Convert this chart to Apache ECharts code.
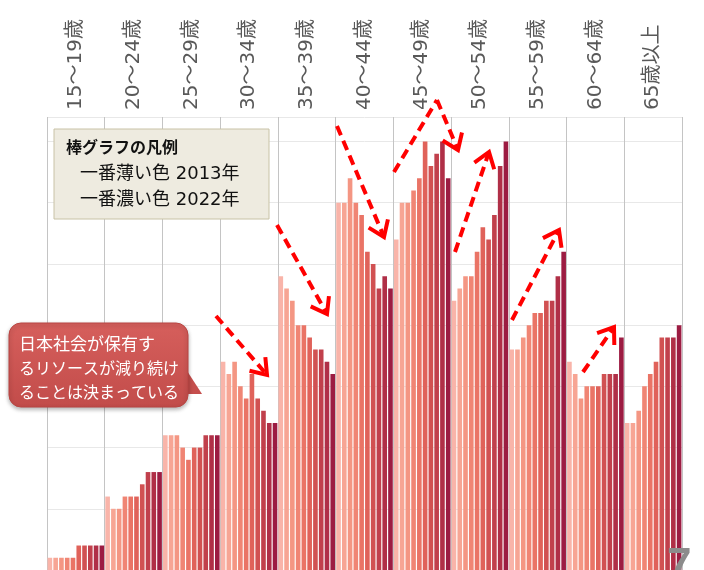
<!DOCTYPE html>
<html>
<head>
<meta charset="utf-8">
<script src="https://cdn.jsdelivr.net/npm/echarts@6/dist/echarts.min.js"></script>
<style>
  html, body { margin: 0; padding: 0; background: #fff; }
  #chart { width: 704px; height: 570px; }
</style>
</head>
<body>
<div id="chart"></div>
<script>
// age groups (x categories) and years (one series per year)
var ages = ['15～19歳', '20～24歳', '25～29歳', '30～34歳', '35～39歳', '40～44歳',
            '45～49歳', '50～54歳', '55～59歳', '60～64歳', '65歳以上'];
var years = ['2013', '2014', '2015', '2016', '2017', '2018', '2019', '2020', '2021', '2022'];

// bar heights per age group, 2013 -> 2022 (units, 5 per gridline)
var g15 = [1, 1, 1, 1, 1, 2, 2, 2, 2, 2];
var g20 = [6, 5, 5, 6, 6, 6, 7, 8, 8, 8];
var g25 = [11, 11, 11, 10, 9, 10, 10, 11, 11, 11];
var g30 = [17, 16, 17, 15, 14, 16, 14, 13, 12, 12];
var g35 = [24, 23, 22, 20, 20, 19, 18, 18, 17, 16];
var g40 = [30, 30, 32, 30, 29, 26, 25, 23, 24, 23];
var g45 = [27, 30, 30, 31, 32, 35, 33, 34, 35, 32];
var g50 = [22, 23, 24, 24, 26, 28, 27, 29, 33, 35];
var g55 = [18, 18, 19, 20, 21, 21, 22, 22, 24, 26];
var g60 = [17, 16, 14, 15, 15, 15, 16, 16, 16, 19];
var g65 = [12, 12, 13, 15, 16, 17, 19, 19, 19, 20];

var yTicks = { min: 0, max: 37, interval: 5 };

var colors = ['#F9B4A9', '#F7A594', '#F49683', '#F08574', '#EA7466',
              '#E0625A', '#D15152', '#C1404C', '#B02F47', '#9C1C42'];

(function() {
  var groups = [g15, g20, g25, g30, g35, g40, g45, g50, g55, g60, g65];
  var chart = echarts.init(document.getElementById('chart'), null, { renderer: 'canvas' });
  var cjk = '"Noto Sans CJK JP", "Noto Sans", sans-serif';
  var mixed = '"DejaVu Sans", "Noto Sans CJK JP", sans-serif';

  var series = years.map(function(y, i) {
    return {
      name: y + '年',
      type: 'bar',
      barGap: '25%',
      barCategoryGap: '2%',
      itemStyle: { color: colors[i] },
      data: groups.map(function(g) { return g[i]; })
    };
  });

  // dashed red arrows (annotations)
  var red = '#FF0000';
  function arrow(x1, y1, x2, y2, head) {
    var els = [{
      type: 'line',
      shape: { x1: x1, y1: y1, x2: x2, y2: y2 },
      style: { stroke: red, lineWidth: 4, lineDash: [10, 6] },
      z: 50
    }];
    if (head) {
      var a = Math.atan2(y2 - y1, x2 - x1), L = 18, s = 0.62;
      els.push({
        type: 'polyline',
        shape: { points: [
          [x2 - L * Math.cos(a - s), y2 - L * Math.sin(a - s)],
          [x2, y2],
          [x2 - L * Math.cos(a + s), y2 - L * Math.sin(a + s)]
        ] },
        style: { stroke: red, lineWidth: 4, fill: null, lineJoin: 'miter' },
        z: 50
      });
    }
    return els;
  }
  var arrows = [].concat(
    arrow(216, 316, 267, 375, true),
    arrow(277, 225, 327, 314, true),
    arrow(337, 126, 384, 237, true),
    arrow(394, 172, 437, 100, false),
    arrow(437, 100, 458, 150, true),
    arrow(455, 252, 489, 152, true),
    arrow(512, 320, 559, 230, true),
    arrow(583, 372, 614, 327, true)
  );

  chart.setOption({
    animation: false,
    grid: { left: 47, right: 22, top: 117, bottom: -2 },
    xAxis: {
      type: 'category',
      position: 'top',
      data: ages,
      axisLine: { show: true, lineStyle: { color: '#C8C8C8', width: 1 } },
      axisTick: { show: true, length: 108, interval: 0, lineStyle: { color: '#C4C4C4' } },
      axisLabel: { interval: 0, rotate: 90, margin: 7, fontSize: 20, color: '#595959', fontFamily: mixed },
      splitLine: { show: true, interval: 0, lineStyle: { color: '#C4C4C4' } }
    },
    yAxis: {
      type: 'value',
      min: yTicks.min,
      max: yTicks.max,
      interval: yTicks.interval,
      axisLabel: { show: false },
      axisLine: { show: false },
      axisTick: { show: false },
      splitLine: { lineStyle: { color: '#E8E8E8' } }
    },
    series: series,
    graphic: [
      {
        type: 'rect',
        shape: { x: 54, y: 129, width: 215, height: 90 },
        style: { fill: '#EEEBE0', stroke: '#C8C2A6', lineWidth: 1 },
        z: 40
      },
      { type: 'text', x: 66, y: 147, z: 41,
        style: { text: '棒グラフの凡例', font: 'bold 16px ' + cjk, fill: '#111', verticalAlign: 'middle' } },
      { type: 'text', x: 80, y: 174, z: 41,
        style: { text: '一番薄い色 2013年', font: '18px ' + mixed, fill: '#111', verticalAlign: 'middle' } },
      { type: 'text', x: 80, y: 200, z: 41,
        style: { text: '一番濃い色 2022年', font: '18px ' + mixed, fill: '#111', verticalAlign: 'middle' } },
      {
        type: 'polygon',
        shape: { points: [[180, 360], [202, 394], [180, 394]] },
        style: { fill: '#C54E4C' },
        z: 40
      },
      {
        type: 'rect',
        shape: { x: 9, y: 323, width: 179, height: 84, r: 12 },
        style: {
          fill: new echarts.graphic.LinearGradient(0, 0, 0, 1, [
            { offset: 0, color: '#D65F5C' }, { offset: 1, color: '#C24C4A' }
          ]),
          stroke: '#B84542', lineWidth: 1,
          shadowBlur: 4, shadowColor: 'rgba(0,0,0,0.3)', shadowOffsetY: 2
        },
        z: 40
      },
      { type: 'text', x: 19, y: 344, z: 41,
        style: { text: '日本社会が保有す', font: '17px ' + cjk, fill: '#fff', verticalAlign: 'middle' } },
      { type: 'text', x: 19, y: 368, z: 41,
        style: { text: 'るリソースが減り続け', font: '16px ' + cjk, fill: '#fff', verticalAlign: 'middle' } },
      { type: 'text', x: 19, y: 392, z: 41,
        style: { text: 'ることは決まっている', font: '16px ' + cjk, fill: '#fff', verticalAlign: 'middle' } },
      { type: 'text', x: 667, y: 545, z: 41,
        style: { text: '7', font: 'bold 44px "Liberation Sans", sans-serif', fill: '#8C8C8C' } }
    ].concat(arrows)
  });
  window.addEventListener('resize', function() { chart.resize(); });
})();
</script>
</body>
</html>
